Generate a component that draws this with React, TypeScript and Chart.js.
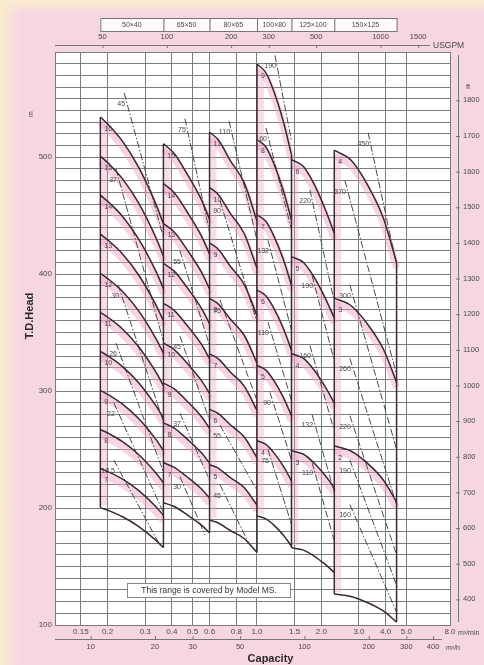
import React, { useEffect, useRef } from "react";
import { Chart, registerables } from "chart.js";

Chart.register(...registerables);

const FONT = '"Liberation Sans", Arial, Helvetica, sans-serif';

// ---------- axes ----------
const xTickValues = [0.15, 0.2, 0.3, 0.4, 0.5, 0.6, 0.8, 1.0, 1.5, 2.0, 3.0, 4.0, 5.0, 8.0];
const xTickLabels = ["0.15", "0.2", "0.3", "0.4", "0.5", "0.6", "0.8", "1.0", "1.5", "2.0", "3.0", "4.0", "5.0", "8.0"];
const xMin = 0.1135;
const xMax = 8.0;
const headMin = 100;
const headMax = 590;
const headLabels = [100, 200, 300, 400, 500];
const usgpmTicks = [50, 100, 200, 300, 500, 1000, 1500];
const m3hTicks = [10, 20, 30, 50, 100, 200, 300, 400];
const ftTicks = [1800, 1700, 1600, 1500, 1400, 1300, 1200, 1100, 1000, 900, 800, 700, 600, 500, 400];

// ---------- models ----------
const modelNames = ["50×40", "65×50", "80×65", "100×80", "125×100", "150×125"];
const modelBounds = [0.185, 0.365, 0.6, 1.0, 1.45, 2.3, 4.5];

// capacity (m3/min) and head per stage (m)
const m1Q = [0.185, 0.205, 0.235, 0.28, 0.335, 0.365];
const m1H = [33.4, 32.9, 32.1, 30.7, 28.8, 27.7];
const m1Stages = [16, 15, 14, 13, 12, 11, 10, 9, 8, 7];
const m1Min = 6;
const m1Power = ["45", "37", "30", "26", "22", "18.5"];
const m1Lines = [
  [0.239, 555, 0.363, 433],
  [0.219, 490, 0.363, 344],
  [0.224, 391, 0.363, 275],
  [0.219, 341, 0.363, 232],
  [0.214, 290, 0.363, 197],
  [0.214, 241, 0.352, 168],
];

const m2Q = [0.365, 0.41, 0.47, 0.55, 0.6];
const m2H = [34.1, 33.55, 32.4, 30.9, 29.8];
const m2Stages = [15, 14, 13, 12, 11, 10, 9, 8, 7];
const m2Min = 6;
const m2Power = ["75", "55", "45", "37", "30"];
const m2Lines = [
  [0.46, 533, 0.6, 436],
  [0.436, 420, 0.6, 339],
  [0.436, 347, 0.6, 275],
  [0.436, 281, 0.6, 224],
  [0.436, 227, 0.571, 177],
];

const m3Q = [0.6, 0.66, 0.75, 0.87, 1.0];
const m3H = [47.4, 46.8, 45.2, 43.5, 40.5];
const m3Stages = [11, 10, 9, 8, 7, 6, 5];
const m3Min = 4;
const m3Power = ["110", "90", "75", "55", "45"];
const m3Lines = [
  [0.74, 531, 1.0, 429],
  [0.671, 463, 1.0, 359],
  [0.671, 378, 1.0, 292],
  [0.671, 271, 1.0, 215],
  [0.671, 220, 0.927, 168],
];

const m4Q = [1.0, 1.1, 1.2, 1.33, 1.45];
const m4H = [64.4, 63.6, 61.8, 58.9, 55.8];
const m4Stages = [9, 8, 7, 6, 5, 4];
const m4Min = 3;
const m4Power = ["190", "160", "132", "110", "90", "75"];
const m4Lines = [
  [1.214, 587, 1.45, 514],
  [1.102, 525, 1.45, 438],
  [1.126, 429, 1.45, 352],
  [1.126, 359, 1.45, 292],
  [1.15, 299, 1.45, 241],
  [1.126, 250, 1.45, 186],
];

const m5Q = [1.45, 1.65, 1.85, 2.08, 2.3];
const m5H = [83, 82, 79.5, 76, 72.5];
const m5Stages = [6, 5, 4, 3];
const m5Min = 2;
const m5Power = ["220", "190", "160", "132", "110"];
const m5Lines = [
  [1.77, 472, 2.29, 378],
  [1.81, 399, 2.29, 327],
  [1.77, 339, 2.29, 267],
  [1.81, 280, 2.29, 215],
  [1.81, 239, 2.29, 173],
];

const m6Q = [2.3, 2.75, 3.3, 3.9, 4.5];
const m6H = [126.5, 124.4, 119, 112, 102.5];
const m6Stages = [4, 3, 2];
const m6Min = 1;
const m6Power = ["450", "370", "300", "260", "220", "190", "160"];
const m6Lines = [
  [3.31, 521, 4.5, 408],
  [2.58, 480, 4.5, 314],
  [2.72, 391, 4.5, 250],
  [2.72, 328, 4.5, 203],
  [2.72, 279, 4.5, 160],
  [2.72, 241, 4.5, 134],
  [2.72, 203, 4.5, 111],
];

const models = [
  { q: m1Q, h: m1H, stages: m1Stages, min: m1Min, power: m1Power, lines: m1Lines },
  { q: m2Q, h: m2H, stages: m2Stages, min: m2Min, power: m2Power, lines: m2Lines },
  { q: m3Q, h: m3H, stages: m3Stages, min: m3Min, power: m3Power, lines: m3Lines },
  { q: m4Q, h: m4H, stages: m4Stages, min: m4Min, power: m4Power, lines: m4Lines },
  { q: m5Q, h: m5H, stages: m5Stages, min: m5Min, power: m5Power, lines: m5Lines },
  { q: m6Q, h: m6H, stages: m6Stages, min: m6Min, power: m6Power, lines: m6Lines },
];

const noteText = "This range is covered by Model MS.";

// ---------- styles ----------
const gridColor = "#7c7c7c";
const curveColor = "#3a2832";
const bandColor = "rgba(238,160,196,0.45)";
const stripColor = "rgba(238,160,196,0.35)";
const textColor = "#4a4a4a";

function buildDatasets() {
  const ds: any[] = [];
  models.forEach((m) => {
    m.stages.forEach((n) => {
      ds.push({
        data: m.q.map((q, i) => ({ x: q, y: n * m.h[i] - 4.5 })),
        borderColor: bandColor,
        borderWidth: 7,
        pointRadius: 0,
        cubicInterpolationMode: "monotone",
        order: 3,
      });
    });
    [...m.stages, m.min].forEach((n) => {
      ds.push({
        data: m.q.map((q, i) => ({ x: q, y: n * m.h[i] })),
        borderColor: curveColor,
        borderWidth: 1.5,
        pointRadius: 0,
        cubicInterpolationMode: "monotone",
        order: 1,
      });
    });
    m.lines.forEach((l) => {
      ds.push({
        data: [
          { x: l[0], y: l[1] },
          { x: l[2], y: l[3] },
        ],
        borderColor: "#4a4a4a",
        borderWidth: 1,
        borderDash: [7, 2, 1.5, 2],
        pointRadius: 0,
        order: 1,
      });
    });
  });
  modelBounds.forEach((q, i) => {
    const tops: number[] = [];
    const bots: number[] = [];
    if (i < models.length) {
      const m = models[i];
      tops.push(m.stages[0] * m.h[0]);
      bots.push(m.min * m.h[0]);
    }
    if (i > 0) {
      const m = models[i - 1];
      const k = m.h.length - 1;
      tops.push(m.stages[0] * m.h[k]);
      bots.push(m.min * m.h[k]);
    }
    ds.push({
      data: [
        { x: q, y: Math.max(...tops) },
        { x: q, y: Math.min(...bots) },
      ],
      borderColor: curveColor,
      borderWidth: 1.5,
      pointRadius: 0,
      order: 0,
    });
  });
  return ds;
}

const overlay = {
  id: "overlay",
  beforeDraw(chart: any) {
    const { ctx, chartArea: a } = chart;
    ctx.save();
    ctx.fillStyle = "#ffffff";
    ctx.fillRect(a.left, a.top, a.right - a.left, a.bottom - a.top);
    ctx.restore();
  },
  beforeDatasetsDraw(chart: any) {
    const { ctx } = chart;
    const xs = chart.scales.x;
    const ys = chart.scales.y;
    ctx.save();
    ctx.strokeStyle = stripColor;
    ctx.lineWidth = 6;
    models.forEach((m) => {
      const x = xs.getPixelForValue(m.q[0]) + 4;
      ctx.beginPath();
      ctx.moveTo(x, ys.getPixelForValue(m.stages[0] * m.h[0]) + 6);
      ctx.lineTo(x, ys.getPixelForValue(m.min * m.h[0]) - 2);
      ctx.stroke();
    });
    ctx.restore();
  },
  afterDraw(chart: any) {
    const { ctx, chartArea: a } = chart;
    const xs = chart.scales.x;
    const ys = chart.scales.y;
    const px = (q: number) => xs.getPixelForValue(q);
    const py = (h: number) => ys.getPixelForValue(h);
    ctx.save();
    ctx.fillStyle = textColor;
    ctx.strokeStyle = "#555";

    ctx.font = `7px ${FONT}`;
    ctx.textAlign = "left";
    ctx.textBaseline = "middle";
    models.forEach((m) => {
      m.stages.forEach((n) => {
        ctx.fillText(String(n), px(m.q[0]) + 4, py(n * m.h[0]) + 12);
      });
    });
    ctx.textAlign = "right";
    models.forEach((m) => {
      m.lines.forEach((l, j) => {
        ctx.fillText(m.power[j], px(l[0]) + 1, py(l[1]) + 11);
      });
    });

    // header boxes
    const hTop = a.top - 34;
    const hH = 13;
    ctx.lineWidth = 1;
    ctx.font = `7px ${FONT}`;
    ctx.textAlign = "center";
    modelNames.forEach((name, i) => {
      const x1 = px(modelBounds[i]);
      const x2 = px(modelBounds[i + 1]);
      ctx.fillStyle = "#fffafc";
      ctx.fillRect(x1, hTop, x2 - x1, hH);
      ctx.strokeStyle = "#777";
      ctx.strokeRect(x1 + 0.5, hTop + 0.5, x2 - x1, hH);
      ctx.fillStyle = textColor;
      ctx.fillText(name, (x1 + x2) / 2, hTop + hH / 2 + 0.5);
    });

    // top USGPM axis
    const ty = a.top - 7;
    ctx.strokeStyle = "#777";
    ctx.beginPath();
    ctx.moveTo(a.left, ty + 0.5);
    ctx.lineTo(a.right - 20, ty + 0.5);
    ctx.stroke();
    ctx.font = `7.5px ${FONT}`;
    ctx.textAlign = "center";
    usgpmTicks.forEach((v) => {
      const x = px(v / 264.17);
      ctx.beginPath();
      ctx.moveTo(x + 0.5, ty);
      ctx.lineTo(x + 0.5, ty + 3);
      ctx.stroke();
      ctx.fillText(String(v), x, ty - 8);
    });
    ctx.textAlign = "left";
    ctx.font = `8.5px ${FONT}`;
    ctx.fillText("USGPM", a.right - 17, ty + 1);

    // right ft axis
    const rx = a.right + 8;
    ctx.beginPath();
    ctx.moveTo(rx + 0.5, a.top + 3);
    ctx.lineTo(rx + 0.5, a.bottom - 3);
    ctx.stroke();
    ctx.font = `7.5px ${FONT}`;
    ctx.textAlign = "left";
    ftTicks.forEach((v) => {
      const y = py(v * 0.3048);
      ctx.beginPath();
      ctx.moveTo(rx - 2, y + 0.5);
      ctx.lineTo(rx + 2, y + 0.5);
      ctx.stroke();
      ctx.fillText(String(v), rx + 5, y);
    });
    ctx.fillText("ft", rx + 8, py(1800 * 0.3048) - 13);

    // bottom m3/h axis
    const by = a.bottom + 14;
    ctx.beginPath();
    ctx.moveTo(a.left, by + 0.5);
    ctx.lineTo(a.right - 8, by + 0.5);
    ctx.stroke();
    ctx.textAlign = "center";
    m3hTicks.forEach((v) => {
      const x = px(v / 60);
      ctx.beginPath();
      ctx.moveTo(x + 0.5, by - 3);
      ctx.lineTo(x + 0.5, by);
      ctx.stroke();
      ctx.fillText(String(v), x, by + 8);
    });
    ctx.textAlign = "left";
    ctx.font = `7px ${FONT}`;
    ctx.fillText("m³/h", a.right - 4, by + 9);
    ctx.fillText("m³/min", a.right + 8, a.bottom + 8);

    // note box
    const nx = a.left + 72;
    const ny = a.bottom - 42;
    ctx.fillStyle = "#ffffff";
    ctx.fillRect(nx, ny, 163, 14);
    ctx.strokeStyle = "#888";
    ctx.strokeRect(nx + 0.5, ny + 0.5, 163, 14);
    ctx.fillStyle = "#333";
    ctx.font = `8.5px ${FONT}`;
    ctx.textAlign = "center";
    ctx.fillText(noteText, nx + 82, ny + 7.5);

    // titles
    ctx.fillStyle = "#2a2a2a";
    ctx.font = `bold 11px ${FONT}`;
    ctx.textAlign = "center";
    ctx.fillText("Capacity", (a.left + a.right) / 2 + 18, a.bottom + 34);
    ctx.save();
    ctx.translate(30, 316);
    ctx.rotate(-Math.PI / 2);
    ctx.fillText("T.D.Head", 0, 0);
    ctx.restore();
    ctx.save();
    ctx.translate(31, 114);
    ctx.rotate(-Math.PI / 2);
    ctx.font = `7px ${FONT}`;
    ctx.fillStyle = textColor;
    ctx.fillText("m", 0, 0);
    ctx.restore();

    ctx.restore();
  },
};

export default function App() {
  const ref = useRef<HTMLCanvasElement | null>(null);
  useEffect(() => {
    if (!ref.current) return;
    const headGrid: number[] = [];
    for (let v = headMin; v <= headMax; v += 10) headGrid.push(v);
    const chart = new Chart(ref.current, {
      type: "line",
      data: { datasets: buildDatasets() },
      options: {
        animation: false,
        responsive: false,
        maintainAspectRatio: false,
        layout: { padding: { top: 52, right: 34, left: 0, bottom: 0 } },
        plugins: { legend: { display: false }, tooltip: { enabled: false } },
        elements: { line: { fill: false } },
        scales: {
          x: {
            type: "logarithmic",
            min: xMin,
            max: xMax,
            afterBuildTicks: (s: any) => {
              s.ticks = xTickValues.map((v) => ({ value: v }));
            },
            afterFit: (s: any) => {
              s.height = 40;
            },
            ticks: {
              autoSkip: false,
              maxRotation: 0,
              minRotation: 0,
              padding: 2,
              color: textColor,
              font: { size: 8, family: FONT },
              callback: (_v: any, i: number) => xTickLabels[i],
            },
            grid: { color: gridColor, lineWidth: 1, drawTicks: false },
            border: { color: gridColor },
          },
          y: {
            type: "linear",
            min: headMin,
            max: headMax,
            afterBuildTicks: (s: any) => {
              s.ticks = headGrid.map((v) => ({ value: v }));
            },
            afterFit: (s: any) => {
              s.width = 55;
            },
            ticks: {
              autoSkip: false,
              padding: 3,
              color: textColor,
              font: { size: 8, family: FONT },
              callback: (v: any) => (headLabels.includes(v) ? String(v) : ""),
            },
            grid: { color: gridColor, lineWidth: 1, drawTicks: false },
            border: { color: gridColor },
          },
        },
      } as any,
      plugins: [overlay],
    });
    return () => chart.destroy();
  }, []);
  return (
    <div
      style={{
        position: "fixed",
        left: 0,
        top: 0,
        width: 484,
        height: 665,
        background:
          "linear-gradient(to right, rgba(250,238,198,1) 0px, rgba(250,232,215,0.6) 10px, rgba(247,216,228,0) 22px), linear-gradient(to bottom, rgba(250,238,205,1) 0px, rgba(247,216,228,0) 14px), #f6d6e2",
      }}
    >
      <canvas ref={ref} width={484} height={665} style={{ display: "block" }} />
    </div>
  );
}
